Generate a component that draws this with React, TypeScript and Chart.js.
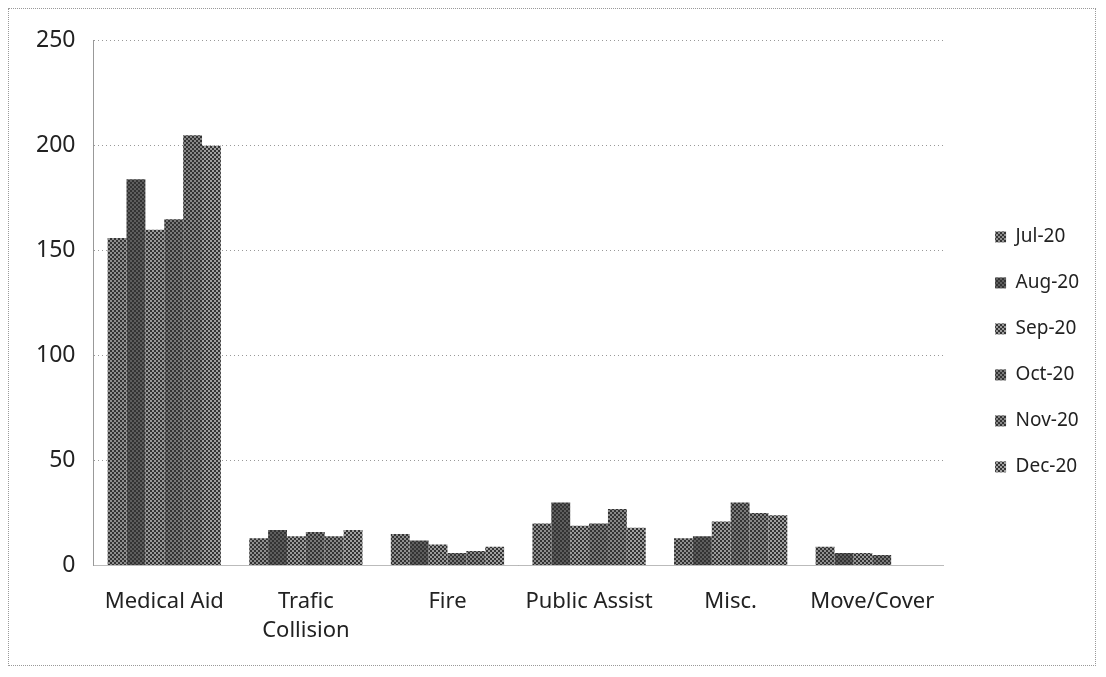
import React, { useEffect, useRef } from "react";
import { Chart, registerables } from "chart.js";

Chart.register(...registerables);

const categories: (string | string[])[] = [
  "Medical Aid",
  ["Trafic", "Collision"],
  "Fire",
  "Public Assist",
  "Misc.",
  "Move/Cover",
];
const seriesNames = ["Jul-20", "Aug-20", "Sep-20", "Oct-20", "Nov-20", "Dec-20"];
const jul = [156, 13, 15, 20, 13, 9];
const aug = [184, 17, 12, 30, 14, 6];
const sep = [160, 14, 10, 19, 21, 6];
const oct = [165, 16, 6, 20, 30, 5];
const nov = [205, 14, 7, 27, 25, 0];
const dec = [200, 17, 9, 18, 24, 0];
const yTicks = [0, 50, 100, 150, 200, 250];

const seriesValues = [jul, aug, sep, oct, nov, dec];
const seriesColors = ["#8f8f8f", "#5e5e5e", "#9a9a9a", "#7a7a7a", "#888888", "#a0a0a0"];

const LEGEND_GAP = 25;

function makePattern(base: string, line: string, step: number): CanvasPattern | string {
  const c = document.createElement("canvas");
  c.width = step;
  c.height = step;
  const ctx = c.getContext("2d");
  if (!ctx) return base;
  ctx.fillStyle = base;
  ctx.fillRect(0, 0, step, step);
  ctx.strokeStyle = line;
  ctx.lineWidth = 1;
  ctx.beginPath();
  ctx.moveTo(0, step);
  ctx.lineTo(step, 0);
  ctx.stroke();
  ctx.beginPath();
  ctx.moveTo(0, 0);
  ctx.lineTo(step, step);
  ctx.stroke();
  const p = ctx.createPattern(c, "repeat");
  return p || base;
}

const legendGapPlugin = {
  id: "legendGap",
  afterInit(chart: any) {
    const lg = chart.legend;
    if (!lg || lg.__patched) return;
    lg.__patched = true;
    const origFit = lg.fit.bind(lg);
    lg.fit = () => {
      origFit();
      lg.width += LEGEND_GAP;
    };
    const origDraw = lg.draw.bind(lg);
    lg.draw = () => {
      lg.left += LEGEND_GAP;
      origDraw();
      lg.left -= LEGEND_GAP;
    };
  },
};

export default function App() {
  const ref = useRef<HTMLCanvasElement>(null);
  useEffect(() => {
    if (!ref.current) return;
    const font = "'Noto Sans', 'Open Sans', sans-serif";
    const datasets = seriesNames.map((name, i) => ({
      label: name,
      data: seriesValues[i],
      backgroundColor: makePattern(seriesColors[i], "#333333", 4),
      borderWidth: 0,
      categoryPercentage: 0.8,
      barPercentage: 1.0,
    }));
    const chart = new Chart(ref.current, {
      type: "bar",
      data: { labels: categories, datasets },
      plugins: [legendGapPlugin],
      options: {
        animation: false,
        responsive: false,
        maintainAspectRatio: false,
        layout: { padding: { left: 9, right: 6, top: 27, bottom: 6 } },
        plugins: {
          tooltip: { enabled: false },
          legend: {
            position: "right",
            align: "start",
            title: { display: true, text: "", padding: { top: 150, bottom: 0 } },
            labels: {
              boxWidth: 11,
              boxHeight: 11,
              padding: 27,
              color: "#222",
              font: { family: font, size: 19 },
            },
          },
        },
        scales: {
          x: {
            grid: { display: false },
            border: { display: true, color: "#bbb", dash: [1, 3] },
            ticks: {
              color: "#222",
              font: { family: font, size: 22, lineHeight: 1.35 },
              maxRotation: 0,
              padding: 13,
            },
          },
          y: {
            min: 0,
            max: 250,
            afterBuildTicks: (axis: any) => {
              axis.ticks = yTicks.map((v) => ({ value: v }));
            },
            grid: { color: "#999", drawTicks: false },
            border: { display: true, color: "#999", dash: [1, 3] },
            ticks: {
              color: "#222",
              font: { family: font, size: 23 },
              padding: 18,
            },
          },
        },
      },
    });
    return () => chart.destroy();
  }, []);
  return (
    <div
      style={{
        width: 1086,
        height: 656,
        border: "1px dotted #999",
        position: "relative",
      }}
    >
      <canvas ref={ref} width={1086} height={656} style={{ display: "block" }} />
    </div>
  );
}
